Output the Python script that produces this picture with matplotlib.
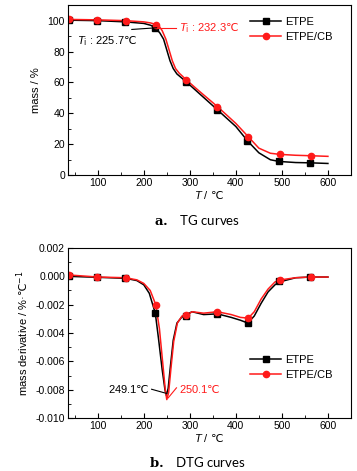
import matplotlib
matplotlib.use("Agg")
import matplotlib.pyplot as plt
from matplotlib.ticker import MultipleLocator, AutoMinorLocator

plt.rcParams['font.family'] = ['Liberation Sans', 'DejaVu Sans']
plt.rcParams['mathtext.fontset'] = 'custom'
plt.rcParams['mathtext.it'] = 'Liberation Sans:italic'
plt.rcParams['mathtext.rm'] = 'DejaVu Sans'
plt.rcParams['mathtext.bf'] = 'DejaVu Serif:bold'
plt.rcParams['axes.unicode_minus'] = False

# curva TG
t_etpe = [35, 100, 160, 200, 215, 225, 235, 243, 250, 257, 264, 272, 282, 292, 320,
          360, 400, 426, 450, 475, 494, 530, 563, 600]
m_etpe = [100.3, 100, 99.2, 98.2, 97, 95.4, 92, 88, 81, 74, 69, 65.5, 63, 60.5, 53,
          42.3, 31.5, 22, 14.5, 10, 8.9, 8.2, 8, 7.6]
t_cb = [35, 100, 160, 200, 215, 232, 240, 248, 255, 262, 269, 277, 286, 292, 320,
        360, 400, 427, 450, 475, 495, 530, 563, 600]
m_cb = [100.8, 100.5, 100, 99.2, 98.5, 97, 93.5, 88, 81, 74, 69, 66, 63.5, 61.8, 54.5,
        44.4, 33.5, 24.9, 17.5, 14.2, 13.5, 12.9, 12.6, 12.2]

# marcadores TG
tm_etpe = [37, 98, 160, 225, 291, 360, 425, 494, 562]
mm_etpe = [100.4, 100, 99, 95.4, 60.5, 42.3, 21.9, 8.9, 8.0]
tm_cb = [37, 98, 161, 227, 292, 359, 427, 495, 563]
mm_cb = [100.8, 100.5, 100, 97.4, 61.8, 44.4, 24.9, 13.5, 12.6]

# curva DTG
td_etpe = [35, 100, 160, 185, 200, 212, 225, 232, 240, 246, 249, 253, 258, 264, 272, 282,
           292, 305, 330, 360, 390, 410, 426, 440, 455, 470, 485, 494, 530, 563, 600]
d_etpe = [0.0, -0.00007, -0.00014, -0.0003, -0.0006, -0.0012, -0.0026, -0.0044, -0.0066,
          -0.0080, -0.0084, -0.0079, -0.0063, -0.0045, -0.0033, -0.0029,
          -0.0027, -0.0025, -0.0027, -0.00265, -0.0029, -0.0031, -0.0033, -0.0028,
          -0.0019, -0.0011, -0.0006, -0.0004, -0.0001, -0.00005, -0.00005]
td_cb = [35, 100, 160, 185, 200, 214, 226, 234, 242, 247, 250, 254, 259, 265, 273, 283,
         292, 305, 330, 360, 390, 410, 427, 440, 455, 470, 485, 495, 530, 563, 600]
d_cb = [0.0001, -0.00005, -0.0001, -0.00025, -0.0005, -0.001, -0.002, -0.0037, -0.0064,
        -0.0081, -0.0087, -0.0082, -0.0065, -0.0046, -0.0033, -0.0028,
        -0.00276, -0.0025, -0.0026, -0.0025, -0.0027, -0.0029, -0.00295, -0.0025,
        -0.0016, -0.0009, -0.0004, -0.00026, -0.0001, -0.00005, -0.00005]

# marcadores DTG
tdm_etpe = [37, 98, 160, 225, 292, 360, 426, 494, 562]
dm_etpe = [0.0, -0.00007, -0.00014, -0.0026, -0.0028, -0.00265, -0.00326, -0.00035, -0.00005]
tdm_cb = [37, 98, 161, 227, 292, 359, 427, 495, 563]
dm_cb = [0.0001, -0.00005, -0.0001, -0.002, -0.00276, -0.0025, -0.00295, -0.00026, -0.00005]

negro = '#000000'
rojo = '#ff1a1a'
grado = r'$\mathrm{℃}$'

fig = plt.figure(figsize=(3.57, 4.71), dpi=100)
ax1 = fig.add_axes([0.190, 0.628, 0.793, 0.361])
ax2 = fig.add_axes([0.190, 0.1125, 0.793, 0.361])


def estilo(ax):
    ax.set_xlim(35, 650)
    ax.xaxis.set_major_locator(MultipleLocator(100))
    ax.xaxis.set_minor_locator(MultipleLocator(50))
    ax.yaxis.set_minor_locator(AutoMinorLocator(2))
    ax.tick_params(which='both', direction='in', labelsize=7.5, pad=2)
    ax.tick_params(which='major', length=3.5)
    ax.tick_params(which='minor', length=2)
    for s in ax.spines.values():
        s.set_linewidth(0.8)
    ax.set_xlabel(r'$T$ / ' + grado, fontsize=8, labelpad=1)


# TG
ax1.plot(t_etpe, m_etpe, color=negro, lw=1.1)
ax1.plot(t_cb, m_cb, color=rojo, lw=1.1)
ax1.plot(tm_etpe, mm_etpe, 's', color=negro, ms=4)
ax1.plot(tm_cb, mm_cb, 'o', color=rojo, ms=4.5)
ax1.plot([], [], 's-', color=negro, ms=4, lw=1.1, label='ETPE')
ax1.plot([], [], 'o-', color=rojo, ms=4.5, lw=1.1, label='ETPE/CB')
ax1.set_ylim(0, 110)
ax1.yaxis.set_major_locator(MultipleLocator(20))
estilo(ax1)
ax1.set_ylabel('mass / %', fontsize=8, labelpad=5)
ax1.plot([174, 228], [94.3, 95.4], color=negro, lw=0.8)
ax1.plot([228, 271], [95.4, 95.4], color=rojo, lw=0.8)
ax1.text(55, 86.5, r'$T_{\rm i}$ : 225.7' + grado, fontsize=8, color=negro, va='center')
ax1.text(276, 95, r'$T_{\rm i}$ : 232.3' + grado, fontsize=8, color=rojo, va='center')
ax1.legend(loc='upper right', bbox_to_anchor=(0.965, 0.985), frameon=False, fontsize=8,
           handlelength=2.8, handletextpad=0.3, labelspacing=0.45, borderaxespad=0.4)

# DTG
ax2.plot(td_etpe, d_etpe, color=negro, lw=1.1)
ax2.plot(td_cb, d_cb, color=rojo, lw=1.1)
ax2.plot(tdm_etpe, dm_etpe, 's', color=negro, ms=4)
ax2.plot(tdm_cb, dm_cb, 'o', color=rojo, ms=4.5)
ax2.plot([], [], 's-', color=negro, ms=4, lw=1.1, label='ETPE')
ax2.plot([], [], 'o-', color=rojo, ms=4.5, lw=1.1, label='ETPE/CB')
ax2.set_ylim(-0.010, 0.002)
ax2.yaxis.set_major_locator(MultipleLocator(0.002))
ax2.yaxis.set_major_formatter(plt.FormatStrFormatter('%.3f'))
estilo(ax2)
ax2.set_ylabel(r'mass derivative / %·' + r'$\mathrm{℃}^{-1}$', fontsize=8, labelpad=3)
ax2.plot([217, 250], [-0.00797, -0.00827], color=negro, lw=0.8)
ax2.plot([253, 271], [-0.00858, -0.00787], color=rojo, lw=0.8)
ax2.text(213, -0.00797, '249.1' + grado, fontsize=8, color=negro, va='center', ha='right')
ax2.text(277, -0.00797, '250.1' + grado, fontsize=8, color=rojo, va='center')
ax2.legend(loc='lower right', bbox_to_anchor=(0.965, 0.17), frameon=False, fontsize=8,
           handlelength=2.8, handletextpad=0.3, labelspacing=0.45, borderaxespad=0.4)

fig.text(0.552, 0.533, r'$\mathbf{a.}$   TG curves', fontsize=9.5, ha='center', va='center',
         family=['Lato'])
fig.text(0.552, 0.019, r'$\mathbf{b.}$   DTG curves', fontsize=9.5, ha='center', va='center',
         family=['Lato'])

fig.savefig('out.png', dpi=100)
